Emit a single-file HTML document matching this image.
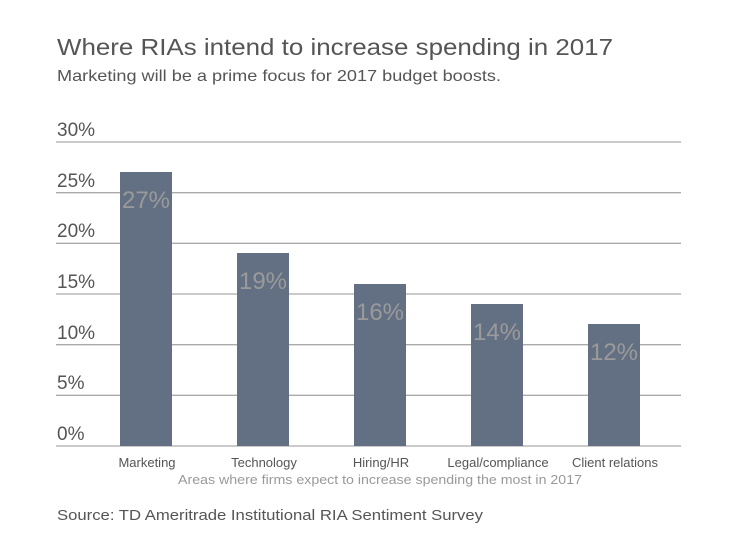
<!DOCTYPE html>
<html><head><meta charset="utf-8"><style>
html,body{margin:0;padding:0;background:#fff}
svg{display:block;font-family:"Liberation Sans",sans-serif}
</style></head><body>
<svg width="748" height="550" viewBox="0 0 748 550">
<text x="57" y="55" font-size="23" fill="#555" textLength="556" lengthAdjust="spacingAndGlyphs">Where RIAs intend to increase spending in 2017</text>
<text x="57" y="81" font-size="16" fill="#555" textLength="444" lengthAdjust="spacingAndGlyphs">Marketing will be a prime focus for 2017 budget boosts.</text>
<g stroke="#aaa" stroke-width="1.3">
<line x1="56" x2="681" y1="142" y2="142"/><line x1="56" x2="681" y1="192.7" y2="192.7"/>
<line x1="56" x2="681" y1="243.3" y2="243.3"/><line x1="56" x2="681" y1="294" y2="294"/>
<line x1="56" x2="681" y1="344.7" y2="344.7"/><line x1="56" x2="681" y1="395.3" y2="395.3"/>
<line x1="56" x2="681" y1="446" y2="446"/>
</g>
<g font-size="19" fill="#555">
<text x="57" y="136">30%</text><text x="57" y="187">25%</text><text x="57" y="237">20%</text>
<text x="57" y="288">15%</text><text x="57" y="339">10%</text><text x="57" y="389">5%</text><text x="57" y="440">0%</text>
</g>
<g fill="#637083">
<rect x="120" y="172" width="52" height="274"/>
<rect x="237" y="253" width="52" height="193"/>
<rect x="354" y="284" width="52" height="162"/>
<rect x="471" y="304" width="52" height="142"/>
<rect x="588" y="324" width="52" height="122"/>
</g>
<g font-size="24" fill="#9a9a9a" text-anchor="middle">
<text x="146" y="208">27%</text><text x="263" y="289">19%</text><text x="380" y="320">16%</text>
<text x="497" y="340">14%</text><text x="614" y="360">12%</text>
</g>
<g font-size="13" fill="#555" text-anchor="middle">
<text x="147" y="467">Marketing</text><text x="264" y="467">Technology</text><text x="381" y="467">Hiring/HR</text>
<text x="498" y="467">Legal/compliance</text><text x="615" y="467">Client relations</text>
</g>
<text x="380" y="484" font-size="13" fill="#999" text-anchor="middle" textLength="404" lengthAdjust="spacingAndGlyphs">Areas where firms expect to increase spending the most in 2017</text>
<text x="57" y="520" font-size="15" fill="#555" textLength="426" lengthAdjust="spacingAndGlyphs">Source: TD Ameritrade Institutional RIA Sentiment Survey</text>
</svg>
</body></html>
